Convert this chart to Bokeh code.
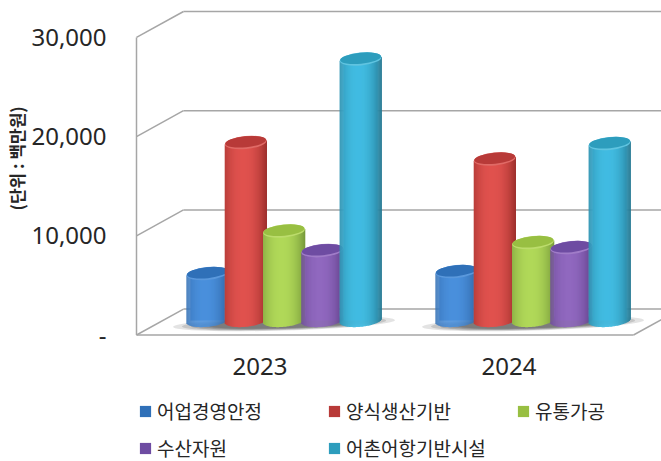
import math
from bokeh.embed import file_html
from bokeh.layouts import column
from bokeh.resources import INLINE
from bokeh.plotting import figure
from bokeh.models import Range1d, LinearAxis, FixedTicker, Legend, LegendItem, Title

years = ["2023", "2024"]
series = ["어업경영안정", "양식생산기반", "유통가공", "수산자원", "어촌어항기반시설"]
v_fishery = [4740, 4940]
v_aqua = [17940, 16280]
v_dist = [9020, 7860]
v_res = [7050, 7360]
v_village = [26360, 17840]
values = [v_fishery, v_aqua, v_dist, v_res, v_village]
y_ticks = [0, 10000, 20000, 30000]
y_tick_labels = ["-", "10,000", "20,000", "30,000"]
y_title = "(단위 : 백만원)"

highlight = ["#4a90dc", "#e0524e", "#b0d858", "#9068bf", "#42bce2"]
edge = ["#2a5c98", "#9c2f2c", "#76993a", "#583a80", "#23768f"]
top_col = ["#2f70b8", "#b83a38", "#98bf42", "#6e4ca2", "#2d9dbd"]
rim_col = ["#5a98dc", "#e06a66", "#bcdc6c", "#a07cc8", "#60c4e0"]
FONT = "Noto Sans CJK KR"
NUM_FONT = "Noto Sans"
GRID = "#a6a6a6"

PX_G = 249.0
PX_V = 0.00992
W, H = 661, 392
FL, FB, FT = 130, 345, 0      # frame left / bottom / top, figure px
def xr(c):
    return Range1d((FL - c) / PX_G, (W - c) / PX_G)
def yr(z):
    return Range1d((z - FB) / PX_V, (z - FT) / PX_V)

p = figure(width=W, height=H, output_backend="svg", toolbar_location=None,
           x_range=xr(259.5), y_range=yr(334.5), x_axis_location=None, y_axis_location=None,
           min_border_left=FL, min_border_right=0, min_border_top=FT, min_border_bottom=H - FB,
           outline_line_color=None)
p.xgrid.visible = False
p.ygrid.visible = False
p.background_fill_color = "white"
p.extra_x_ranges["bars"] = xr(283.5)
p.extra_y_ranges["bars"] = yr(320.0)

DX, DY = 47 / PX_G, 25.9 / PX_V
x0 = (136 - 259.5) / PX_G
xr_end = (W + 20 - 259.5) / PX_G
p.segment(x0=[x0] * 4, y0=y_ticks, x1=[x0 + DX] * 4, y1=[t + DY for t in y_ticks], line_color=GRID, line_width=1.5)
p.segment(x0=[x0 + DX] * 4, y0=[t + DY for t in y_ticks], x1=[xr_end] * 4, y1=[t + DY for t in y_ticks], line_color=GRID, line_width=1.5)
p.segment(x0=[x0], y0=[0], x1=[x0], y1=[30000], line_color=GRID, line_width=1.5)
fx = (633 - 259.5) / PX_G
p.segment(x0=[x0, fx], y0=[0, 0], x1=[fx, fx + DX], y1=[0, DY], line_color=GRID, line_width=1.5)

for i in range(2):
    for k, a in zip([1.0, 0.92, 0.84, 0.76, 0.68], [0.16, 0.2, 0.24, 0.28, 0.3]):
        p.ellipse(x=[i], y=[-3.0 / PX_V], width=[222 * k], height=[14 * k], angle=0.03,
                  width_units="screen", height_units="screen", fill_color="#505050", fill_alpha=a,
                  line_color=None, x_range_name="bars", y_range_name="bars")

def mix(a, b, m):
    ca = [int(a[j:j + 2], 16) for j in (1, 3, 5)]
    cb = [int(b[j:j + 2], 16) for j in (1, 3, 5)]
    return "#%02x%02x%02x" % tuple(round(x + (y - x) * m) for x, y in zip(ca, cb))

R, B, TILT = 21.0, 6.3, 0.10
STEP = 38.3
for s, name in enumerate(series):
    off = (s - 2) * STEP / PX_G
    xs = [i + off for i in range(2)]
    p.vbar(x=xs, top=values[s], bottom=[0] * 2, width=34 / PX_G, fill_color=highlight[s], line_color=None,
           x_range_name="bars", y_range_name="bars")
    for i, val in enumerate(values[s]):
        L, Rr, T, Bo, C = [], [], [], [], []
        for px in range(-21, 21):
            mid = px + 0.5
            t = mid / R
            m = max(1 - abs((t + 0.12) / 1.12) ** 2.2, 0)
            L.append(xs[i] + px / PX_G)
            Rr.append(xs[i] + (px + 1.3) / PX_G)
            T.append(val + TILT * mid / PX_V)
            Bo.append((TILT * mid - B * math.sqrt(max(1 - t * t, 0))) / PX_V)
            C.append(mix(edge[s], highlight[s], m))
        p.quad(left=L, right=Rr, top=T, bottom=Bo, fill_color=C, line_color=None,
               x_range_name="bars", y_range_name="bars")
    p.ellipse(x=xs, y=values[s], width=[42] * 2, height=[13] * 2, angle=math.atan(TILT),
              width_units="screen", height_units="screen", fill_color=rim_col[s], line_color=None,
              x_range_name="bars", y_range_name="bars")
    p.ellipse(x=xs, y=[v + 0.8 / PX_V for v in values[s]], width=[41] * 2, height=[11] * 2, angle=math.atan(TILT),
              width_units="screen", height_units="screen", fill_color=top_col[s], line_color=None,
              x_range_name="bars", y_range_name="bars")

ya = LinearAxis(ticker=FixedTicker(ticks=y_ticks), major_label_overrides=dict(zip(y_ticks, y_tick_labels)))
ya.axis_line_color = None
ya.major_tick_line_color = None
ya.minor_tick_line_color = None
ya.major_tick_in = 0
ya.major_tick_out = 0
ya.major_label_standoff = 24
ya.major_label_text_font = NUM_FONT
ya.major_label_text_font_size = "24px"
ya.major_label_text_color = "#262626"
p.add_layout(ya, "left")

xa = LinearAxis(ticker=FixedTicker(ticks=[0, 1]), major_label_overrides={0: years[0], 1: years[1]})
xa.axis_line_color = None
xa.major_tick_line_color = None
xa.minor_tick_line_color = None
xa.major_tick_in = 0
xa.major_tick_out = 0
xa.major_label_standoff = 12
xa.major_label_text_font = NUM_FONT
xa.major_label_text_font_size = "24px"
xa.major_label_text_color = "#262626"
p.add_layout(xa, "below")

p.add_layout(Title(text=y_title, align="left", offset=135, standoff=0, text_font=FONT, text_font_style="bold",
                   text_font_size="17px", text_color="#262626"), "left")

# legend strip below the chart
q = figure(width=W, height=69, output_backend="svg", toolbar_location=None,
           x_range=Range1d(0, 1), y_range=Range1d(0, 1), x_axis_location=None, y_axis_location=None,
           min_border_left=0, min_border_right=0, min_border_top=0, min_border_bottom=0,
           outline_line_color=None)
q.xgrid.visible = False
q.ygrid.visible = False
items = []
for s, name in enumerate(series):
    # drawn outside the visible range: only its legend swatch shows
    r = q.quad(left=[2], right=[3], top=[3], bottom=[2], fill_color=top_col[s], line_color=None)
    items.append(LegendItem(label=name, renderers=[r]))
legend = Legend(items=items, orientation="horizontal", ncols=3, nrows=2,
                location=(8, 0), background_fill_alpha=0, border_line_color=None,
                padding=0, margin=0, spacing=10, label_standoff=5, glyph_width=14, glyph_height=14,
                label_width=160, label_height=20, label_text_font=FONT, label_text_font_size="19px",
                label_text_color="#262626")
q.add_layout(legend, "center")

open("out.html", "w").write(file_html(column(p, q, spacing=0), INLINE))
